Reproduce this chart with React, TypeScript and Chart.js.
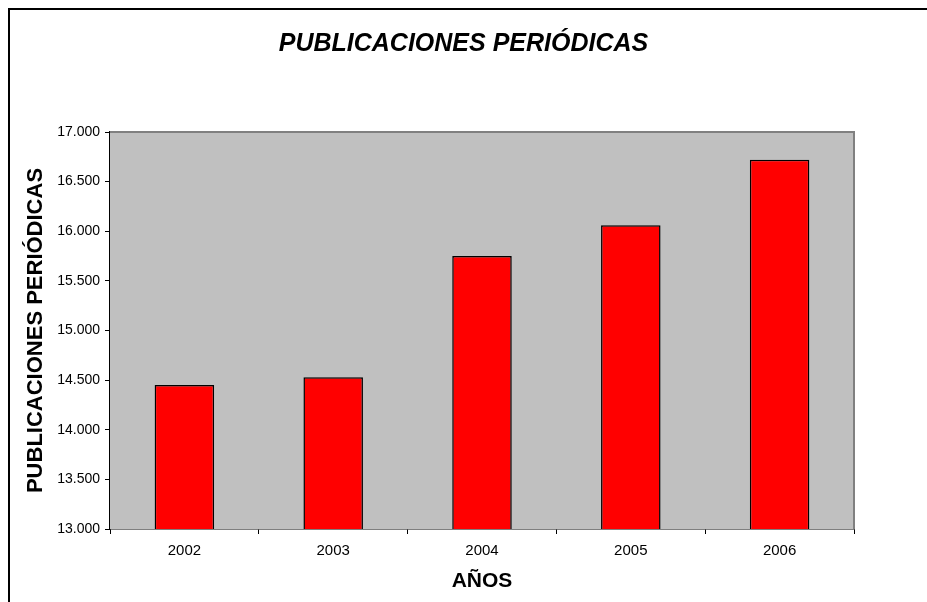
import React, { useEffect, useRef } from "react";
import { Chart, registerables } from "chart.js";

Chart.register(...registerables);

const categories: string[] = ["2002", "2003", "2004", "2005", "2006"];
const publicaciones: number[] = [14450, 14530, 15750, 16060, 16720];
const yMin = 13000;
const yMax = 17000;
const yStep = 500;
const chartTitle = "PUBLICACIONES PERIÓDICAS";
const yTitle = "PUBLICACIONES PERIÓDICAS";
const xTitle = "AÑOS";

const FONT = "'Liberation Sans', Arial, Helvetica, sans-serif";

const fmt = (n: number) => String(n).replace(/\B(?=(\d{3})+(?!\d))/g, ".");

const plotBg = {
  id: "plotBg",
  beforeDatasetsDraw(chart: any) {
    const { ctx, chartArea } = chart;
    const { left, top, right, bottom } = chartArea;
    ctx.save();
    ctx.fillStyle = "#C0C0C0";
    ctx.fillRect(left, top, right - left, bottom - top);
    ctx.strokeStyle = "#808080";
    ctx.lineWidth = 2;
    ctx.beginPath();
    ctx.moveTo(left, top);
    ctx.lineTo(right, top);
    ctx.lineTo(right, bottom);
    ctx.stroke();
    ctx.restore();
  },
};

export default function App() {
  const ref = useRef<HTMLCanvasElement | null>(null);

  useEffect(() => {
    if (!ref.current) return;
    const chart = new Chart(ref.current, {
      type: "bar",
      data: {
        labels: categories,
        datasets: [
          {
            label: yTitle,
            data: publicaciones,
            backgroundColor: "#FF0000",
            borderColor: "#000000",
            borderWidth: 1.5,
            categoryPercentage: 1,
            barPercentage: 0.4,
            yAxisID: "y",
          },
        ],
      },
      options: {
        responsive: false,
        animation: false,
        devicePixelRatio: 1,
        layout: { padding: { left: 0, top: 0, right: 0, bottom: 0 } },
        plugins: {
          legend: { display: false },
          tooltip: { enabled: false },
          title: {
            display: true,
            text: chartTitle,
            color: "#000",
            font: { family: FONT, size: 25, weight: "bold", style: "italic" },
            padding: { top: 29, bottom: 73 },
          },
        },
        scales: {
          x: {
            type: "category",
            offset: true,
            grid: {
              display: true,
              offset: true,
              drawOnChartArea: false,
              drawTicks: true,
              tickLength: 5,
              color: "#000",
            },
            border: { display: true, color: "#000", width: 1.5 },
            ticks: {
              color: "#000",
              font: { family: FONT, size: 15 },
              padding: 8,
              maxRotation: 0,
            },
            title: {
              display: true,
              text: xTitle,
              color: "#000",
              font: { family: FONT, size: 21, weight: "bold" },
              padding: { top: 0, bottom: 8.4 },
            },
            afterFit(scale: any) {
              scale.height = 73;
            },
          },
          y: {
            min: yMin,
            max: yMax,
            grid: {
              display: true,
              drawOnChartArea: false,
              drawTicks: true,
              tickLength: 5,
              color: "#000",
            },
            border: { display: true, color: "#000", width: 1.5 },
            ticks: {
              stepSize: yStep,
              color: "#000",
              font: { family: FONT, size: 14 },
              padding: 5,
              callback: (v: any) => fmt(Number(v)),
            },
            title: {
              display: true,
              text: yTitle,
              color: "#000",
              font: { family: FONT, size: 22, weight: "bold" },
              padding: { top: 22.8, bottom: 0 },
            },
            afterFit(scale: any) {
              scale.width = 110;
            },
          },
          spacer: {
            type: "linear",
            position: "right",
            display: true,
            grid: { display: false, drawTicks: false },
            border: { display: false },
            ticks: { display: false },
            title: { display: false },
            afterFit(scale: any) {
              scale.width = 73;
            },
          },
        },
      },
      plugins: [plotBg],
    });
    return () => chart.destroy();
  }, []);

  return (
    <div style={{ position: "fixed", left: 0, top: 0, width: 927, height: 602, background: "#fff", overflow: "hidden" }}>
      <canvas ref={ref} width={927} height={602} style={{ position: "absolute", left: 0, top: 0, width: 927, height: 602 }} />
      <div
        style={{
          position: "absolute",
          left: 8,
          top: 8,
          width: 919,
          height: 594,
          borderTop: "2px solid #000",
          borderLeft: "2px solid #000",
          boxSizing: "border-box",
          pointerEvents: "none",
        }}
      />
    </div>
  );
}
